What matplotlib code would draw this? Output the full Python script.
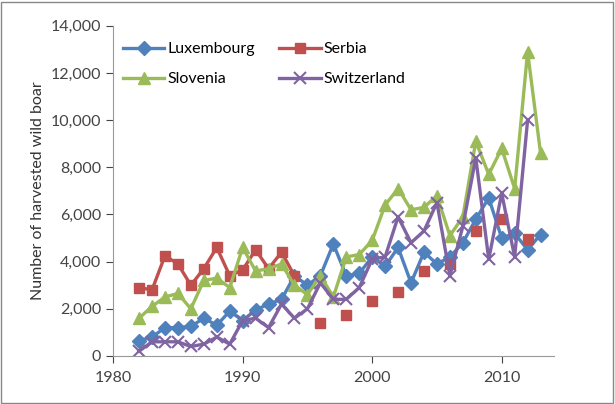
import numpy as np
import matplotlib.pyplot as plt
from matplotlib.patches import Rectangle

nan = np.nan
years = list(range(1982, 2014))

luxembourg = [650, 800, 1200, 1200, 1250, 1600, 1300, 1900, 1500, 1950,
              2200, 2400, 3400, 3000, 3400, 4750, 3400, 3500, 4200, 3800,
              4600, 3100, 4400, 3900, 4200, 4800, 5800, 6700, 5000, 5200,
              4500, 5150]
serbia = [2900, 2800, 4250, 3900, 3000, 3700, 4600, 3400, 3650, 4500,
          3700, 4400, 3400, nan, 1400, nan, 1750, nan, 2350, nan,
          2700, nan, 3600, nan, 3900, nan, 5300, nan, 5800, nan,
          4950, nan]
slovenia = [1600, 2100, 2500, 2650, 2000, 3200, 3300, 2900, 4600, 3600,
            3700, 3900, 3000, 2600, 3400, 2500, 4200, 4300, 4900, 6400,
            7100, 6200, 6300, 6800, 5100, 5900, 9100, 7700, 8800, 7100,
            12900, 8600]
switzerland = [200, 600, 600, 600, 400, 500, 800, 500, 1500, 1600,
               1200, 2200, 1600, 2000, 3100, 2400, 2400, 2900, 4100, 4200,
               5900, 4800, 5300, 6500, 3400, 5500, 8400, 4100, 6900, 4200,
               10000, nan]

fig = plt.figure(figsize=(6.15, 4.04), dpi=100)
plt.rcParams['font.family'] = ['Lato', 'DejaVu Sans']
ax = fig.add_axes([0.184, 0.119, 0.716, 0.817])

l1, = ax.plot(years, luxembourg, color='#4F81BD', lw=2.4, marker='D', ms=7,
              label='Luxembourg')
l2, = ax.plot(years, serbia, color='#C0504D', lw=2.4, marker='s', ms=7,
              label='Serbia')
l3, = ax.plot(years, slovenia, color='#9BBB59', lw=2.4, marker='^', ms=9,
              label='Slovenia')
l4, = ax.plot(years, switzerland, color='#8064A2', lw=2.4, marker='x', ms=9,
              mew=1.5, label='Switzerland')

ax.set_xlim(1980, 2014)
ax.set_ylim(0, 14000)
ax.set_xticks([1980, 1990, 2000, 2010])
ax.set_yticks(range(0, 14001, 2000))
ax.yaxis.set_major_formatter(plt.FuncFormatter(lambda v, p: f'{int(v):,}'))
ax.set_ylabel('Number of harvested wild boar', fontsize=11.5, color='#333333')
ax.tick_params(labelsize=11.5, colors='#444444', length=5, direction='out')
ax.tick_params(axis='x', pad=6)
for s in ['top', 'right']:
    ax.spines[s].set_visible(False)
for s in ['left', 'bottom']:
    ax.spines[s].set_color('#999999')

# row-wise legend order like the original
ax.legend([l1, l3, l2, l4], ['Luxembourg', 'Slovenia', 'Serbia', 'Switzerland'],
          ncol=2, loc='upper left', bbox_to_anchor=(0.0, 0.98), frameon=False,
          fontsize=11.5, handlelength=2.6, handletextpad=0.2,
          columnspacing=1.5, labelspacing=1.0, borderaxespad=0.2)

fig.patches.append(Rectangle((0.002, 0.003), 0.995, 0.993, transform=fig.transFigure,
                             fill=False, edgecolor='#888888', lw=1))

fig.savefig('out.png', dpi=100)
